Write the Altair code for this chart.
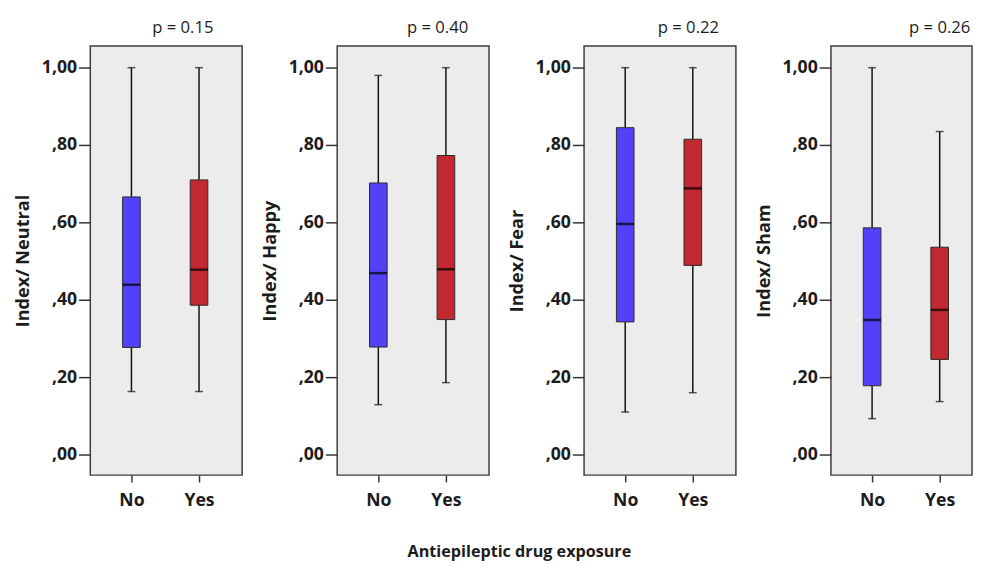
import altair as alt
import pandas as pd

# ---- data ----
panels = ["Neutral", "Happy", "Fear", "Sham"]
p_labels = ["p = 0.15", "p = 0.40", "p = 0.22", "p = 0.26"]
groups = ["No", "Yes"]

# per panel: [No, Yes]
whisker_low = {"Neutral": [0.163, 0.163], "Happy": [0.129, 0.186], "Fear": [0.110, 0.160], "Sham": [0.093, 0.137]}
q1 = {"Neutral": [0.277, 0.386], "Happy": [0.278, 0.349], "Fear": [0.343, 0.489], "Sham": [0.178, 0.246]}
median = {"Neutral": [0.439, 0.478], "Happy": [0.469, 0.479], "Fear": [0.596, 0.688], "Sham": [0.348, 0.374]}
q3 = {"Neutral": [0.666, 0.710], "Happy": [0.702, 0.773], "Fear": [0.845, 0.815], "Sham": [0.586, 0.536]}
whisker_high = {"Neutral": [1.0, 1.0], "Happy": [0.980, 1.0], "Fear": [1.0, 1.0], "Sham": [1.0, 0.835]}

y_ticks = [0.0, 0.2, 0.4, 0.6, 0.8, 1.0]
x_title = "Antiepileptic drug exposure"

# ---- style ----
BLUE = "#5241F7"
RED = "#C1282F"
FONT = "Open Sans"
TXT = "#1c1c1c"

title_dx = [17, 25, 29, 39]
panel_widths = [155, 155, 155, 144]


def panel_chart(i, name):
    df = pd.DataFrame({
        "group": groups,
        "low": whisker_low[name],
        "q1": q1[name],
        "median": median[name],
        "q3": q3[name],
        "high": whisker_high[name],
    })
    x = alt.X("group:N", sort=groups,
              scale=alt.Scale(type="point", domain=groups, range=[42, 111], padding=0),
              axis=alt.Axis(title=None, labelAngle=0, domain=False, ticks=True, tickSize=7,
                            tickColor="#333", tickWidth=1.5, labelPadding=10,
                            labelFont=FONT, labelFontSize=18, labelFontWeight="bold",
                            labelColor=TXT))
    yscale = alt.Scale(domain=[-0.053, 1.056], nice=False, zero=False)
    y = alt.Y("low:Q", scale=yscale,
              axis=alt.Axis(title=f"Index/ {name}", values=y_ticks,
                            labelExpr="datum.value >= 1 ? '1,00' : ',' + substring(format(datum.value, '.2f'), 2)",
                            grid=False, domain=False, tickSize=12, tickColor="#333", tickWidth=1.5,
                            labelPadding=2, labelFont=FONT, labelFontSize=18,
                            labelFontWeight="bold", labelColor=TXT,
                            titleFont=FONT, titleFontSize=18.5, titleFontWeight="bold",
                            titleColor=TXT, titlePadding=9))
    base = alt.Chart(df)
    rule = base.mark_rule(color="#111", strokeWidth=1.5).encode(
        x=x, y=y, y2="high:Q")
    cap_low = base.mark_tick(color="#111", size=8, thickness=1.5).encode(
        x=x, y=alt.Y("low:Q", scale=yscale))
    cap_high = base.mark_tick(color="#111", size=8, thickness=1.5).encode(
        x=x, y=alt.Y("high:Q", scale=yscale))
    box = base.mark_bar(size=18, stroke="#2a2a2a", strokeWidth=1).encode(
        x=x, y=alt.Y("q1:Q", scale=yscale), y2="q3:Q",
        color=alt.Color("group:N", scale=alt.Scale(domain=groups, range=[BLUE, RED]), legend=None))
    med = base.mark_tick(color="#000", size=18, thickness=2.5).encode(
        x=x, y=alt.Y("median:Q", scale=yscale))
    return alt.layer(rule, cap_low, cap_high, box, med).properties(
        width=panel_widths[i], height=438,
        title=alt.TitleParams(p_labels[i], font=FONT, fontSize=17, fontWeight="normal",
                              color=TXT, anchor="middle", dx=title_dx[i], offset=9),
    )


charts = [panel_chart(i, n) for i, n in enumerate(panels)]

chart = alt.hconcat(*charts, spacing=17).resolve_scale(x="independent", y="independent").properties(
    title=alt.TitleParams(x_title, orient="bottom", anchor="middle", dx=27, font=FONT,
                          fontSize=16.5, fontWeight="bold", color=TXT, offset=35),
    padding={"left": 5, "top": 5, "right": 0, "bottom": 0},
).configure_view(fill="#ECECEC", stroke="#3c3c3c", strokeWidth=1.5)

chart.save("out.html", embed_options={"renderer": "svg", "actions": False})
